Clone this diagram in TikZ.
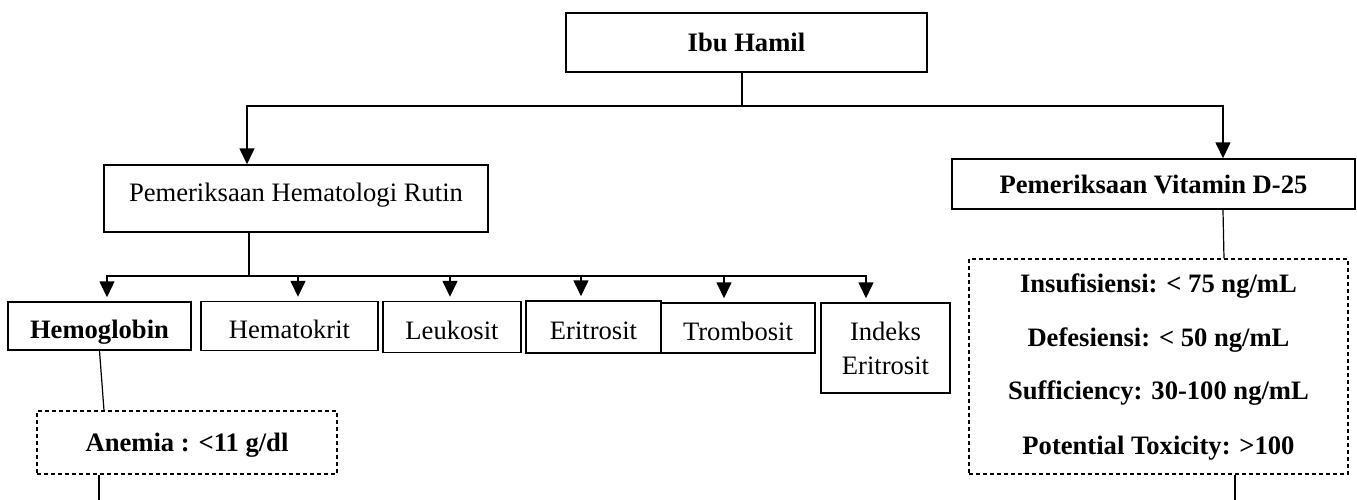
\documentclass[tikz,border=0pt]{standalone}
\usepackage{fontspec}
\setmainfont{Liberation Serif}
\usetikzlibrary{positioning,arrows.meta}

\begin{document}
\begin{tikzpicture}[on grid,>={Triangle[length=8pt,width=7.5pt]},
  box/.style={draw,line width=0.75pt,inner sep=0pt,align=center,font=\fontsize{13.3pt}{17pt}\selectfont},
  bbox/.style={box,font=\fontsize{13.3pt}{17pt}\selectfont\bfseries},
  dbox/.style={bbox,dash pattern=on 2pt off 1.5pt},
  rowbox/.style={text height=12.5pt,text depth=0.5pt},
  link/.style={line width=0.6pt},
  arr/.style={->,line width=0.8pt}]
\useasboundingbox (-373.25pt,21.25pt) rectangle (305.25pt,-228.25pt);
\node[bbox,minimum width=180.5pt,minimum height=29.5pt] (ibu) at (0,0) {Ibu Hamil};
\node[box,minimum width=192pt,minimum height=33.5pt,text depth=6pt] (hema) [below left=78pt and 225.25pt of ibu] {Pemeriksaan Hematologi Rutin};
\node[bbox,minimum width=201.5pt,minimum height=25pt] (vit) [below right=70.75pt and 203.5pt of ibu] {Pemeriksaan Vitamin D-25};
\node[bbox,rowbox,minimum width=91.5pt,minimum height=24pt] (hb) [below left=63.75pt and 98.25pt of hema] {Hemoglobin};
\node[box,rowbox,minimum width=88.5pt,minimum height=24.5pt] (ht) [right=95pt of hb] {Hematokrit};
\node[box,rowbox,minimum width=69pt,minimum height=25.5pt] (leu) [below right=0.5pt and 81.25pt of ht] {Leukosit};
\node[box,rowbox,minimum width=67.5pt,minimum height=26pt] (eri) [right=70.75pt of leu] {Eritrosit};
\node[box,rowbox,minimum width=77pt,minimum height=25pt] (tro) [below right=0.5pt and 72.25pt of eri] {Trombosit};
\node[box,minimum width=64.5pt,minimum height=45pt] (ie) [below right=10pt and 73.75pt of tro] {Indeks\\Eritrosit};
\node[dbox,minimum width=150pt,minimum height=31.5pt,text depth=0pt] (ane) [below right=58.25pt and 43.75pt of hb] {Anemia : <11 g/dl};
\node[dbox,minimum width=189.5pt,minimum height=107.5pt,font=\fontsize{13.3pt}{27pt}\selectfont\bfseries] (vd) [below right=91.25pt and 2.5pt of vit]
  {Insufisiensi: < 75 ng/mL\\Defesiensi: < 50 ng/mL\\Sufficiency: 30-100 ng/mL\\Potential Toxicity: >100};

\coordinate (tj) at ([xshift=-2.25pt,yshift=-16.5pt]ibu.south);
\coordinate (hj) at ([xshift=-23.5pt,yshift=-21.5pt]hema.south);
\coordinate (aneout) at ([xshift=-44pt,yshift=-12.5pt]ane.south);
\coordinate (vdout) at ([xshift=38.25pt,yshift=-12.5pt]vd.south);

\draw[link] ([xshift=-2.25pt]ibu.south) -- (tj);
\draw[arr] (tj) -| ([xshift=-24.5pt]hema.north);
\draw[arr] (tj) -| ([xshift=34.75pt]vit.north);
\draw[link] ([xshift=-23.5pt]hema.south) -- (hj);
\foreach \n/\dx in {hb/3.75,ht/4.25,leu/-1,eri/-6.25,tro/-7,ie/-9.75}
  \draw[arr] (hj) -| ([xshift=\dx pt,yshift=2pt]\n.north);
\draw[link] (hb.south) -- ([xshift=-41.5pt]ane.north);
\draw[link] ([xshift=34.75pt]vit.south) -- ([xshift=32.75pt]vd.north);
\draw[link] (ane.south -| aneout) -- (aneout);
\draw[link] (vd.south -| vdout) -- (vdout);
\end{tikzpicture}
\end{document}
